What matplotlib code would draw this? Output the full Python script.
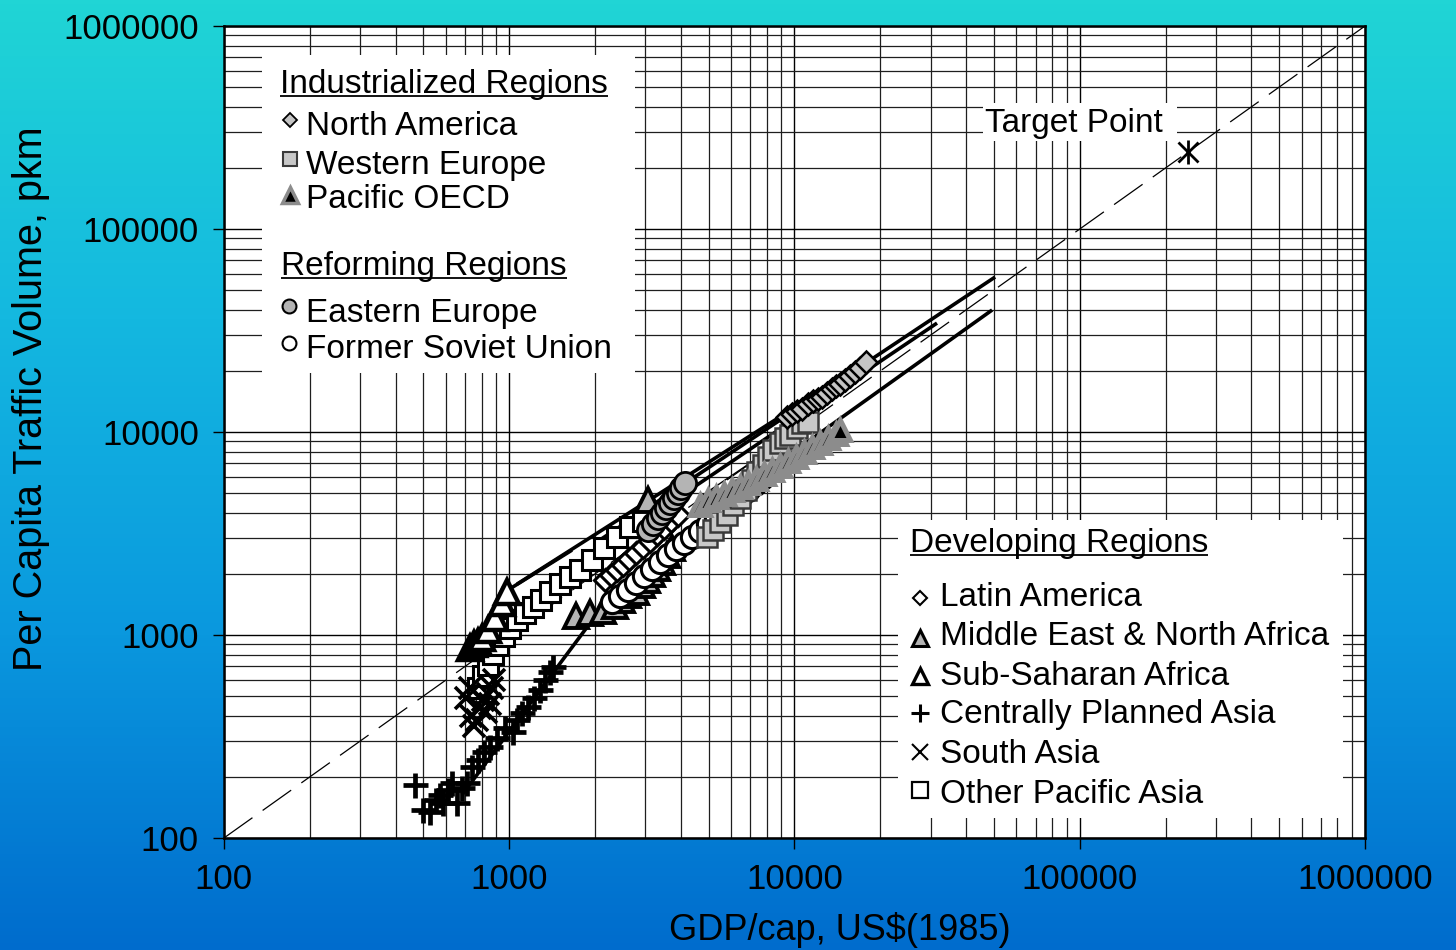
import numpy as np
import matplotlib
matplotlib.use("Agg")
import matplotlib.pyplot as plt
from matplotlib.colors import LinearSegmentedColormap
from matplotlib.patches import Rectangle
from matplotlib.ticker import LogLocator, NullFormatter

# ---------------------------------------------------------------------------
# Data: GDP per capita (US$ 1985) vs. per-capita traffic volume (pkm)
# ---------------------------------------------------------------------------
NA_GDP = [9400, 9800, 10200, 10600, 11150, 11600, 12100, 12500, 13000,
          13500, 14000, 14400, 15000, 15650, 16300, 17000, 17800]
NA_PKM = [11900, 12300, 12700, 13000, 13700, 14200, 14500, 14900, 15600,
          16300, 16800, 17200, 18000, 18900, 19700, 20700, 22100]

WE_GDP = [4930, 5180, 5480, 5800, 6090, 6440, 6760, 7100, 7390, 7750,
          8070, 8400, 8900, 9260, 9640, 10200, 10600, 11150]
WE_PKM = [3040, 3290, 3600, 3900, 4370, 4730, 5180, 5800, 6350, 6880,
          7530, 8150, 8830, 9340, 9670, 10460, 11070, 11200]

POECD_GDP = [4660, 4980, 5310, 5660, 6040, 6440, 6870, 7330, 7820, 8340,
             8900, 9490, 10120, 10800, 11520, 12290, 13100, 13990, 14440]
POECD_PKM = [4370, 4620, 4780, 4950, 5180, 5360, 5610, 5870, 6210, 6500,
             6800, 7200, 7530, 7970, 8440, 8830, 9340, 9770, 10230]

EE_GDP = [3065, 3190, 3320, 3430, 3540, 3660, 3780, 3900, 4000, 4130]
EE_PKM = [3290, 3520, 3770, 3990, 4220, 4470, 4730, 5010, 5300, 5610]

FSU_GDP = [2290, 2445, 2610, 2780, 2970, 3165, 3380, 3600, 3840, 4100,
           4370, 4660, 4980, 5310, 5660, 6040, 6440, 6870, 7270, 7690]
FSU_PKM = [1450, 1560, 1670, 1800, 1950, 2110, 2290, 2480, 2650, 2840,
           3040, 3250, 3520, 3770, 4080, 4420, 4780, 5180, 5540, 5930]

LA_GDP = [2170, 2270, 2390, 2500, 2630, 2780, 2940, 3110, 3300, 3490,
          3690, 3900]
LA_PKM = [1870, 1975, 2090, 2210, 2370, 2535, 2710, 2900, 3150, 3370,
          3640, 3900]

MENA_GDP = [1710, 1920, 2130, 2350, 2490, 2610, 2780, 2920, 3040, 3165,
            3300, 3430, 3570, 3720, 3065]
MENA_PKM = [1240, 1280, 1310, 1390, 1490, 1570, 1630, 1760, 1870, 2000,
            2140, 2290, 2480, 2680, 4620]

SSA_GDP = [728, 752, 777, 803, 843, 891, 943, 982]
SSA_PKM = [863, 903, 924, 966, 1058, 1212, 1438, 1628]

CPA_GDP = [467, 498, 527, 553, 571, 586, 610, 630, 656, 683, 711, 740,
           777, 816, 856, 906, 966, 1031, 1065, 1108, 1163, 1222, 1283,
           1334, 1390, 1423]
CPA_PKM = [182, 137, 134, 154, 163, 149, 172, 187, 149, 176, 187, 224,
           242, 265, 281, 311, 348, 333, 381, 413, 442, 489, 536, 600,
           657, 696]

SA_GDP = [705, 734, 752, 771, 789, 809, 829, 843, 856, 870, 884, 728]
SA_PKM = [489, 399, 356, 381, 437, 479, 418, 512, 457, 548, 600, 548]

OPA_GDP = [777, 809, 843, 877, 913, 959, 1007, 1065, 1136, 1211, 1292,
           1390, 1507, 1634, 1771, 1950, 2148, 2386, 2650, 2944]
OPA_PKM = [548, 628, 711, 806, 893, 989, 1083, 1190, 1283, 1374, 1490,
           1628, 1784, 1931, 2090, 2340, 2683, 3040, 3404, 3644]

TARGET_GDP = [240000]
TARGET_PKM = [240000]

# fitted trends (end points of each straight log-log segment)
CPA_TREND_GDP = [683, 2170]
CPA_TREND_PKM = [163, 1440]
SSA_TREND_GDP = [966, 1660]
SSA_TREND_PKM = [1630, 2620]
OPA_TREND_GDP = [1065, 8750]
OPA_TREND_PKM = [1780, 11700]
NA_TREND_GDP = [2080, 50500]
NA_TREND_PKM = [2940, 58000]
WE_TREND_GDP = [2445, 31600]
WE_TREND_PKM = [3040, 34400]
POECD_TREND_GDP = [7560, 49300]
POECD_TREND_PKM = [6070, 39900]
FSU_TREND_GDP = [4660, 7880]
FSU_TREND_PKM = [4780, 7880]

# y = x reference diagonal
DIAG = [100, 1000000]

TICKS = [100, 1000, 10000, 100000, 1000000]
TICK_LABELS = ["100", "1000", "10000", "100000", "1000000"]

# ---------------------------------------------------------------------------
# Style
# ---------------------------------------------------------------------------
plt.rcParams.update({
    "font.family": ["Liberation Sans", "DejaVu Sans"],
    "font.size": 24,
})

STYLE = {
    "NA":    dict(marker="D", mfc="#c4c4c4", mec="black", ms=11, mew=1.8),
    "WE":    dict(marker="s", mfc="#c8c8c8", mec="#3a3a3a", ms=14, mew=1.8),
    "POECD": dict(marker="^", mfc="black", mec="#8c8c8c", ms=15, mew=3.6),
    "EE":    dict(marker="o", mfc="#b4b4b4", mec="black", ms=16, mew=2.0),
    "FSU":   dict(marker="o", mfc="white", mec="black", ms=16, mew=2.2),
    "LA":    dict(marker="D", mfc="white", mec="black", ms=11, mew=2.2),
    "MENA":  dict(marker="^", mfc="#b4b4b4", mec="black", ms=17, mew=2.8),
    "SSA":   dict(marker="^", mfc="white", mec="black", ms=17, mew=3.2),
    "CPA":   dict(marker="+", color="black", ms=18, mew=3.4),
    "SA":    dict(marker="x", color="black", ms=16, mew=2.6),
    "OPA":   dict(marker="s", mfc="white", mec="black", ms=15, mew=2.2),
}

LEGEND_STYLE = {
    "NA":    dict(marker="D", mfc="#c4c4c4", mec="black", ms=7.5, mew=1.3),
    "WE":    dict(marker="s", mfc="#c8c8c8", mec="#3a3a3a", ms=10, mew=1.5),
    "POECD": dict(marker="^", mfc="black", mec="#8c8c8c", ms=11, mew=2.5),
    "EE":    dict(marker="o", mfc="#b4b4b4", mec="black", ms=10, mew=1.5),
    "FSU":   dict(marker="o", mfc="white", mec="black", ms=10, mew=1.5),
    "LA":    dict(marker="D", mfc="white", mec="black", ms=7.5, mew=1.5),
    "MENA":  dict(marker="^", mfc="#b4b4b4", mec="black", ms=11, mew=2.2),
    "SSA":   dict(marker="^", mfc="white", mec="black", ms=11, mew=2.4),
    "CPA":   dict(marker="+", color="black", ms=13, mew=2.2),
    "SA":    dict(marker="x", color="black", ms=11, mew=1.5),
    "OPA":   dict(marker="s", mfc="white", mec="black", ms=11, mew=1.6),
}


def header(fig, ax, x, y, text):
    t = ax.text(x, y, text, transform=ax.transAxes, ha="left", va="baseline",
                fontsize=24, zorder=6)
    fig.canvas.draw()
    bb = t.get_window_extent(fig.canvas.get_renderer())
    bb = bb.transformed(ax.transAxes.inverted())
    uy = y - 0.004
    ax.plot([bb.x0, bb.x1], [uy, uy], transform=ax.transAxes, color="black",
            lw=1.3, zorder=6, solid_capstyle="butt")


def entry(ax, xm, ym, xt, yt, key, label):
    ax.plot([xm], [ym], transform=ax.transAxes, linestyle="none",
            clip_on=False, zorder=6, **LEGEND_STYLE[key])
    ax.text(xt, yt, label, transform=ax.transAxes, ha="left", va="baseline",
            fontsize=24, zorder=6)


def white_box(ax, x0, y0, x1, y1):
    ax.add_patch(Rectangle((x0, y0), x1 - x0, y1 - y0, transform=ax.transAxes,
                           facecolor="white", edgecolor="none", zorder=1.5))


def main():
    fig = plt.figure(figsize=(14.56, 9.5), dpi=100)

    # background gradient, blue at the bottom to cyan at the top
    bg = fig.add_axes([0, 0, 1, 1], zorder=-10)
    cmap = LinearSegmentedColormap.from_list(
        "bg", ["#006ccd", "#0a98de", "#14b8e0", "#20d5d5"])
    grad = np.linspace(0, 1, 256).reshape(-1, 1)
    bg.imshow(grad, aspect="auto", cmap=cmap, origin="lower",
              extent=[0, 1, 0, 1])
    bg.axis("off")

    ax = fig.add_axes([0.1538, 0.1179, 0.7837, 0.8547])
    ax.set_facecolor("white")
    ax.set_xscale("log")
    ax.set_yscale("log")

    # grid: every decade and every sub-decade step
    ax.set_axisbelow(True)
    ax.grid(True, which="major", color="black", lw=1.0)
    ax.grid(True, which="minor", color="#1e1e1e", lw=0.9)

    # legend panels sit over the grid
    white_box(ax, 0.0333, 0.5727, 0.3602, 0.9643)
    white_box(ax, 0.5907, 0.0246, 0.9807, 0.3916)
    white_box(ax, 0.6652, 0.8584, 0.8352, 0.9052)

    # y = x reference
    ax.plot(DIAG, DIAG, color="black", lw=0.9, dashes=(28, 10), zorder=2)

    # trend lines
    thick = dict(color="black", lw=2.6, zorder=3, solid_capstyle="butt")
    for gx, py in [(CPA_TREND_GDP, CPA_TREND_PKM),
                   (SSA_TREND_GDP, SSA_TREND_PKM),
                   (OPA_TREND_GDP, OPA_TREND_PKM),
                   (NA_TREND_GDP, NA_TREND_PKM),
                   (WE_TREND_GDP, WE_TREND_PKM),
                   (POECD_TREND_GDP, POECD_TREND_PKM)]:
        ax.plot(gx, py, **thick)
    ax.plot(FSU_TREND_GDP, FSU_TREND_PKM, color="black", lw=1.0, zorder=3)

    # regional trajectories
    series = [
        ("OPA", OPA_GDP, OPA_PKM),
        ("SA", SA_GDP, SA_PKM),
        ("CPA", CPA_GDP, CPA_PKM),
        ("SSA", SSA_GDP, SSA_PKM),
        ("LA", LA_GDP, LA_PKM),
        ("MENA", MENA_GDP, MENA_PKM),
        ("FSU", FSU_GDP, FSU_PKM),
        ("EE", EE_GDP, EE_PKM),
        ("WE", WE_GDP, WE_PKM),
        ("POECD", POECD_GDP, POECD_PKM),
        ("NA", NA_GDP, NA_PKM),
    ]
    for i, (key, gx, py) in enumerate(series):
        ax.plot(gx, py, linestyle="none", zorder=4 + i * 0.01, **STYLE[key])

    # target point: six-armed star
    ax.plot(TARGET_GDP, TARGET_PKM, linestyle="none", marker="x",
            color="black", ms=14, mew=2.0, zorder=5)
    ax.plot(TARGET_GDP, TARGET_PKM, linestyle="none", marker="|",
            color="black", ms=17, mew=2.0, zorder=5)

    # axes
    ax.set_xlim(100, 1000000)
    ax.set_ylim(100, 1000000)
    ax.set_xticks(TICKS, labels=TICK_LABELS)
    ax.set_yticks(TICKS, labels=TICK_LABELS)
    ax.xaxis.set_minor_locator(LogLocator(base=10, subs=np.arange(2, 10)))
    ax.yaxis.set_minor_locator(LogLocator(base=10, subs=np.arange(2, 10)))
    ax.xaxis.set_minor_formatter(NullFormatter())
    ax.yaxis.set_minor_formatter(NullFormatter())
    ax.tick_params(which="major", direction="out", length=8, width=1.0,
                   labelsize=25, pad=10, color="black")
    ax.tick_params(which="minor", length=0)
    for sp in ax.spines.values():
        sp.set_linewidth(1.8)
        sp.set_color("black")
        sp.set_zorder(7)

    fig.text(0.5769, 0.021, "GDP/cap, US$(1985)", ha="center", va="center",
             fontsize=26)
    fig.text(0.021, 0.58, "Per Capita Traffic Volume, pkm", ha="center",
             va="center", rotation=90, fontsize=28.5)

    # legend: industrialized and reforming regions
    header(fig, ax, 0.0491, 0.9175, "Industrialized Regions")
    entry(ax, 0.0578, 0.8842, 0.0719, 0.8658, "NA", "North America")
    entry(ax, 0.0578, 0.8362, 0.0719, 0.8181, "WE", "Western Europe")
    entry(ax, 0.0578, 0.7919, 0.0719, 0.7759, "POECD", "Pacific OECD")
    header(fig, ax, 0.0500, 0.6933, "Reforming Regions")
    entry(ax, 0.0570, 0.6552, 0.0719, 0.6359, "EE", "Eastern Europe")
    entry(ax, 0.0570, 0.6096, 0.0719, 0.5907, "FSU", "Former Soviet Union")

    # legend: developing regions
    header(fig, ax, 0.6012, 0.3522, "Developing Regions")
    entry(ax, 0.6100, 0.2956, 0.6275, 0.2857, "LA", "Latin America")
    entry(ax, 0.6100, 0.2463, 0.6275, 0.2377, "MENA",
          "Middle East & North Africa")
    entry(ax, 0.6100, 0.1995, 0.6275, 0.1884, "SSA", "Sub-Saharan Africa")
    entry(ax, 0.6100, 0.1539, 0.6275, 0.1412, "CPA", "Centrally Planned Asia")
    entry(ax, 0.6100, 0.1059, 0.6275, 0.0920, "SA", "South Asia")
    entry(ax, 0.6100, 0.0591, 0.6275, 0.0427, "OPA", "Other Pacific Asia")

    ax.text(0.6670, 0.8698, "Target Point", transform=ax.transAxes,
            ha="left", va="baseline", fontsize=24, zorder=6)

    ax.set_xlim(100, 1000000)
    ax.set_ylim(100, 1000000)
    fig.savefig("out.png", dpi=100)
    plt.close(fig)


if __name__ == "__main__":
    main()
